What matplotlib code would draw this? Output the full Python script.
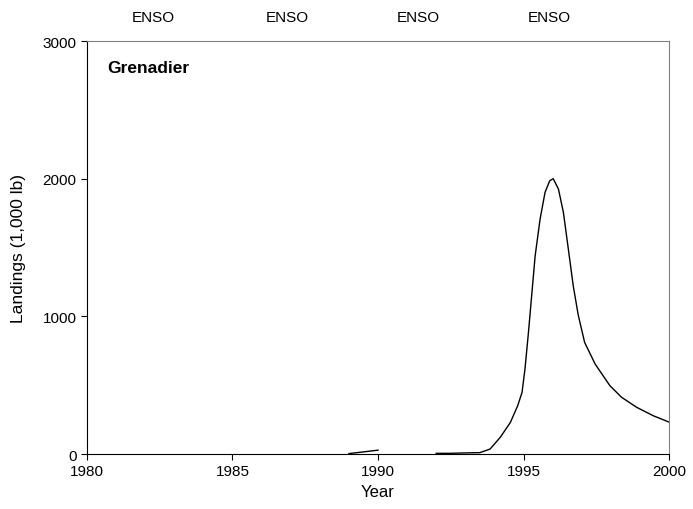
import matplotlib.pyplot as plt

plt.rcParams['font.family'] = ['Liberation Sans', 'DejaVu Sans']

# early landings (short segment before the gap)
years_a = [1989, 1990]
landings_a = [3, 28]

# landings from 1992 on
years_b = [1992, 1992.5, 1993, 1993.5, 1993.85, 1994.2, 1994.55, 1994.8, 1994.95,
           1995.05, 1995.17, 1995.28, 1995.4, 1995.57, 1995.74, 1995.9, 1996.02,
           1996.2, 1996.37, 1996.54, 1996.71, 1996.88, 1997.1, 1997.46, 1997.97,
           1998.37, 1998.89, 1999.46, 2000]
landings_b = [5, 5, 8, 10, 36, 121, 230, 351, 448,
              617, 884, 1150, 1440, 1707, 1901, 1985, 2000,
              1925, 1756, 1489, 1220, 1010, 811, 654, 496,
              412, 339, 278, 232]

enso_x = [1982.27, 1986.87, 1991.37, 1995.87]

fig = plt.figure(figsize=(6.93, 5.1), dpi=100)
ax = fig.add_axes([0.1255, 0.1078, 0.8399, 0.8098])

ax.plot(years_a, landings_a, color='black', lw=1)
ax.plot(years_b, landings_b, color='black', lw=1)

ax.set_xlim(1980, 2000)
ax.set_ylim(0, 3000)
ax.set_xticks([1980, 1985, 1990, 1995, 2000])
ax.set_yticks([0, 1000, 2000, 3000])
ax.tick_params(direction='out', length=4, labelsize=11)
ax.spines['top'].set_color('#808080')
ax.spines['right'].set_color('#808080')

ax.set_xlabel('Year', fontsize=12, labelpad=4)
ax.set_ylabel('Landings (1,000 lb)', fontsize=12.5, labelpad=12)

ax.text(0.035, 0.936, 'Grenadier', transform=ax.transAxes, fontsize=12.5,
        fontweight='bold', va='center', ha='left')

for x in enso_x:
    ax.text(x, 1.058, 'ENSO', transform=ax.get_xaxis_transform(),
            ha='center', va='center', fontsize=11)

fig.savefig('out.png', dpi=100)
